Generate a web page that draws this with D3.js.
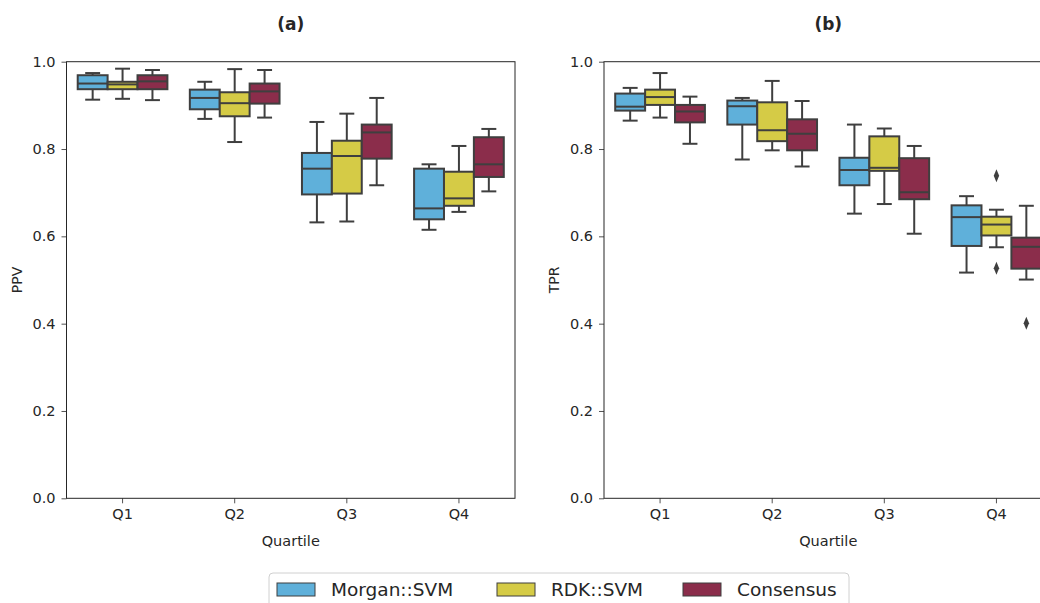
<!DOCTYPE html>
<html lang="en">
<head>
    <meta charset="UTF-8">
    <title>PPV / TPR by quartile</title>
    <script src="https://d3js.org/d3.v7.min.js"></script>
    <style>
        body { margin: 0; background: #fff; }
        text { font-family: "DejaVu Sans", sans-serif; fill: #262626; }
    </style>
</head>
<body>
    <svg width="1040" height="603"></svg>

    <script>
        // categories and series
        const quartiles = ["Q1", "Q2", "Q3", "Q4"];
        const models = ["Morgan::SVM", "RDK::SVM", "Consensus"];
        const colors = ["#5fb0da", "#d5cb46", "#8b2d4b"];
        const yTicks = [0.0, 0.2, 0.4, 0.6, 0.8, 1.0];

        // box stats per quartile: [low whisker, q1, median, q3, high whisker]
        const ppvMorgan = [
            [0.913, 0.937, 0.950, 0.969, 0.974],
            [0.869, 0.891, 0.917, 0.936, 0.954],
            [0.632, 0.696, 0.755, 0.791, 0.862],
            [0.615, 0.639, 0.664, 0.755, 0.765]
        ];
        const ppvRdk = [
            [0.915, 0.937, 0.948, 0.954, 0.984],
            [0.816, 0.875, 0.905, 0.930, 0.983],
            [0.634, 0.698, 0.784, 0.819, 0.881],
            [0.656, 0.670, 0.687, 0.748, 0.807]
        ];
        const ppvCons = [
            [0.912, 0.937, 0.955, 0.969, 0.981],
            [0.872, 0.904, 0.932, 0.950, 0.981],
            [0.717, 0.778, 0.838, 0.856, 0.917],
            [0.703, 0.736, 0.765, 0.827, 0.846]
        ];
        const tprMorgan = [
            [0.865, 0.888, 0.897, 0.927, 0.940],
            [0.776, 0.856, 0.898, 0.911, 0.917],
            [0.652, 0.717, 0.752, 0.780, 0.856],
            [0.517, 0.578, 0.644, 0.671, 0.692]
        ];
        const tprRdk = [
            [0.872, 0.901, 0.919, 0.936, 0.974],
            [0.797, 0.818, 0.843, 0.907, 0.956],
            [0.674, 0.750, 0.757, 0.829, 0.847],
            [0.575, 0.602, 0.627, 0.645, 0.661]
        ];
        const tprCons = [
            [0.812, 0.861, 0.886, 0.901, 0.920],
            [0.760, 0.797, 0.835, 0.868, 0.910],
            [0.606, 0.685, 0.701, 0.779, 0.807],
            [0.501, 0.526, 0.576, 0.597, 0.670]
        ];
        // outliers: [quartile, model, value]
        const tprOutliers = [
            ["Q4", "RDK::SVM", 0.739],
            ["Q4", "RDK::SVM", 0.527],
            ["Q4", "Consensus", 0.401]
        ];

        const svg = d3.select("svg");
        const edge = "#3f3f3f";
        const pw = 448.5, ph = 436.6, plotTop = 61.7;

        function toRows(series) {
            const rows = [];
            series.forEach((s, mi) => {
                s.forEach((st, qi) => {
                    rows.push({ q: quartiles[qi], m: models[mi], lo: st[0], q1: st[1], med: st[2], q3: st[3], hi: st[4] });
                });
            });
            return rows;
        }

        function panel(left, title, ylabel, series, outliers) {
            const g = svg.append("g").attr("transform", `translate(${left},${plotTop})`);

            const x = d3.scaleBand().domain(quartiles).range([0, pw]);
            const xm = d3.scaleBand().domain(models).range([-0.4 * x.bandwidth(), 0.4 * x.bandwidth()]);
            const y = d3.scaleLinear().domain([0, 1]).range([ph, 0]);
            const cx = d => x(d.q) + x.bandwidth() / 2 + xm(d.m) + xm.bandwidth() / 2;
            const bw = xm.bandwidth();

            // axes
            const ya = g.append("g")
                .call(d3.axisLeft(y).tickValues(yTicks).tickFormat(d3.format(".1f")).tickSizeOuter(0).tickSize(5).tickPadding(6));
            const xa = g.append("g")
                .attr("transform", `translate(0,${ph})`)
                .call(d3.axisBottom(x).tickSizeOuter(0).tickSize(5).tickPadding(5));
            [ya, xa].forEach(a => {
                a.select(".domain").remove();
                a.selectAll("line").attr("stroke", "#262626").attr("stroke-width", 0.8);
                a.selectAll("text").style("font-size", "14.5px").style("font-family", "DejaVu Sans").attr("fill", "#262626");
            });

            const rows = toRows(series);
            const bx = g.selectAll(".bx").data(rows).enter().append("g");

            // whiskers
            bx.append("line")
                .attr("x1", cx).attr("x2", cx)
                .attr("y1", d => y(d.q3)).attr("y2", d => y(d.hi))
                .attr("stroke", edge).attr("stroke-width", 2);
            bx.append("line")
                .attr("x1", cx).attr("x2", cx)
                .attr("y1", d => y(d.q1)).attr("y2", d => y(d.lo))
                .attr("stroke", edge).attr("stroke-width", 2);
            // caps
            ["lo", "hi"].forEach(k => {
                bx.append("line")
                    .attr("x1", d => cx(d) - bw / 4).attr("x2", d => cx(d) + bw / 4)
                    .attr("y1", d => y(d[k])).attr("y2", d => y(d[k]))
                    .attr("stroke", edge).attr("stroke-width", 2);
            });
            // boxes
            bx.append("rect")
                .attr("x", d => cx(d) - bw / 2)
                .attr("width", bw)
                .attr("y", d => y(d.q3))
                .attr("height", d => y(d.q1) - y(d.q3))
                .attr("fill", d => colors[models.indexOf(d.m)])
                .attr("stroke", edge).attr("stroke-width", 2);
            // medians
            bx.append("line")
                .attr("x1", d => cx(d) - bw / 2).attr("x2", d => cx(d) + bw / 2)
                .attr("y1", d => y(d.med)).attr("y2", d => y(d.med))
                .attr("stroke", edge).attr("stroke-width", 2);

            // outliers as diamonds
            g.selectAll(".fl").data(outliers).enter().append("path")
                .attr("d", d3.symbol().type(d3.symbolDiamond).size(40))
                .attr("transform", d => {
                    const px = x(d[0]) + x.bandwidth() / 2 + xm(d[1]) + xm.bandwidth() / 2;
                    return `translate(${px},${y(d[2])}) scale(0.8,1.1)`;
                })
                .attr("fill", edge);

            // frame
            g.append("rect").attr("width", pw).attr("height", ph)
                .attr("fill", "none").attr("stroke", "#262626").attr("stroke-width", 1);

            // labels
            g.append("text")
                .attr("x", pw / 2).attr("y", -32)
                .attr("text-anchor", "middle")
                .style("font-size", "17px").style("font-weight", "bold")
                .text(title);
            g.append("text")
                .attr("x", pw / 2).attr("y", ph + 48)
                .attr("text-anchor", "middle")
                .style("font-size", "14.5px")
                .text("Quartile");
            g.append("text")
                .attr("transform", `translate(-45,${ph / 2}) rotate(-90)`)
                .attr("text-anchor", "middle")
                .style("font-size", "14px")
                .text(ylabel);
        }

        panel(66.5, "(a)", "PPV", [ppvMorgan, ppvRdk, ppvCons], []);
        panel(604, "(b)", "TPR", [tprMorgan, tprRdk, tprCons], tprOutliers);

        // legend
        const lg = svg.append("g").attr("transform", "translate(269,573)");
        lg.append("rect").attr("width", 580).attr("height", 44).attr("rx", 4)
            .attr("fill", "#fff").attr("stroke", "#d0d0d0").attr("stroke-width", 1);
        const lx = d3.scaleOrdinal().domain(models).range([8, 228, 414]);
        const items = lg.selectAll(".li").data(models).enter().append("g")
            .attr("transform", d => `translate(${lx(d)},10)`);
        items.append("rect").attr("width", 38).attr("height", 13)
            .attr("fill", (d, i) => colors[i]).attr("stroke", edge).attr("stroke-width", 1);
        items.append("text").attr("x", 54).attr("y", 12.5)
            .style("font-size", "18.5px")
            .text(d => d);
    </script>
</body>
</html>
